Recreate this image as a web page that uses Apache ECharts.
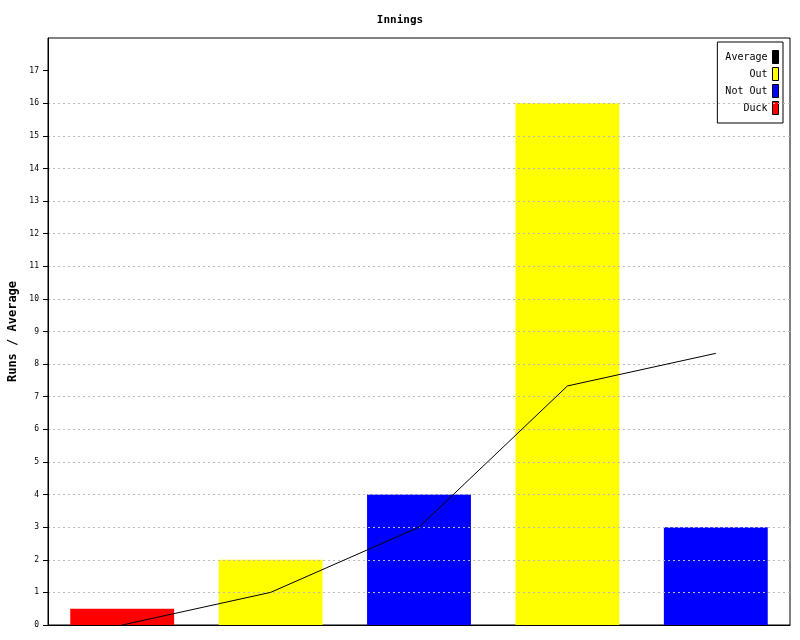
<!DOCTYPE html>
<html>
<head>
<meta charset="utf-8">
<script src="https://cdn.jsdelivr.net/npm/echarts@6/dist/echarts.min.js"></script>
<style>html,body{margin:0;padding:0;background:#fff}#c{width:800px;height:640px}</style>
</head>
<body>
<div id="c"></div>
<script>
var categories = ['1', '2', '3', '4', '5'];
var duckRuns = [0.5, '-', '-', '-', '-'];
var outRuns = ['-', 2, '-', 16, '-'];
var notOutRuns = ['-', '-', 4, '-', 3];
var averageValues = [0, 1, 3, 7.33, 8.33];
var yTicks = [0, 1, 2, 3, 4, 5, 6, 7, 8, 9, 10, 11, 12, 13, 14, 15, 16, 17];

var font = 'DejaVu Sans Mono';
var chart = echarts.init(document.getElementById('c'));
chart.setOption({
  animation: false,
  backgroundColor: '#fff',
  title: {
    text: 'Innings', left: 'center', top: 10,
    textStyle: { fontFamily: font, fontSize: 11, fontWeight: 'bold', color: '#000' }
  },
  legend: {
    orient: 'vertical', right: 17, top: 42,
    backgroundColor: '#fff', borderColor: '#000', borderWidth: 1,
    padding: [8, 4, 8, 8],
    itemWidth: 6, itemHeight: 13, itemGap: 3, align: 'right',
    icon: 'rect',
    itemStyle: { borderColor: '#000', borderWidth: 1 },
    textStyle: { fontFamily: font, fontSize: 10, color: '#000', width: 42, align: 'right' },
    data: ['Average', 'Out', 'Not Out', 'Duck']
  },
  grid: { left: 48, right: 10, top: 38, bottom: 15, containLabel: false, outerBoundsMode: 'none',
    show: true, borderColor: '#000', borderWidth: 1, backgroundColor: 'transparent' },
  xAxis: {
    type: 'category', data: categories, boundaryGap: true,
    axisLine: { lineStyle: { color: '#000' } },
    axisTick: { show: false }, axisLabel: { show: false }
  },
  yAxis: {
    type: 'value', min: 0, max: 18, interval: 1, z: 5,
    name: 'Runs / Average', nameLocation: 'middle', nameGap: 29,
    nameTextStyle: { fontFamily: font, fontSize: 12, fontWeight: 'bold', color: '#000' },
    axisLine: { show: true, lineStyle: { color: '#000' } },
    axisTick: { show: true, length: 5, customValues: yTicks, lineStyle: { color: '#000' } },
    axisLabel: {
      fontFamily: font, fontSize: 8, color: '#000', margin: 9, customValues: yTicks,
      formatter: function (v) { return yTicks.indexOf(v) >= 0 ? String(v) : ''; }
    },
    splitLine: { show: true, showMinLine: false, showMaxLine: false,
      lineStyle: { color: '#bbbbbb', type: [2, 3], width: 1 } }
  },
  series: [
    { name: 'Duck', type: 'bar', stack: 'r', data: duckRuns, barWidth: '70%', itemStyle: { color: '#ff0000' } },
    { name: 'Out', type: 'bar', stack: 'r', data: outRuns, barWidth: '70%', itemStyle: { color: '#ffff00' } },
    { name: 'Not Out', type: 'bar', stack: 'r', data: notOutRuns, barWidth: '70%', itemStyle: { color: '#0000ff' } },
    { name: 'Average', type: 'line', data: averageValues, showSymbol: false, symbol: 'none', z: 6,
      lineStyle: { color: '#000', width: 1 }, itemStyle: { color: '#000' } }
  ]
});
</script>
</body>
</html>
